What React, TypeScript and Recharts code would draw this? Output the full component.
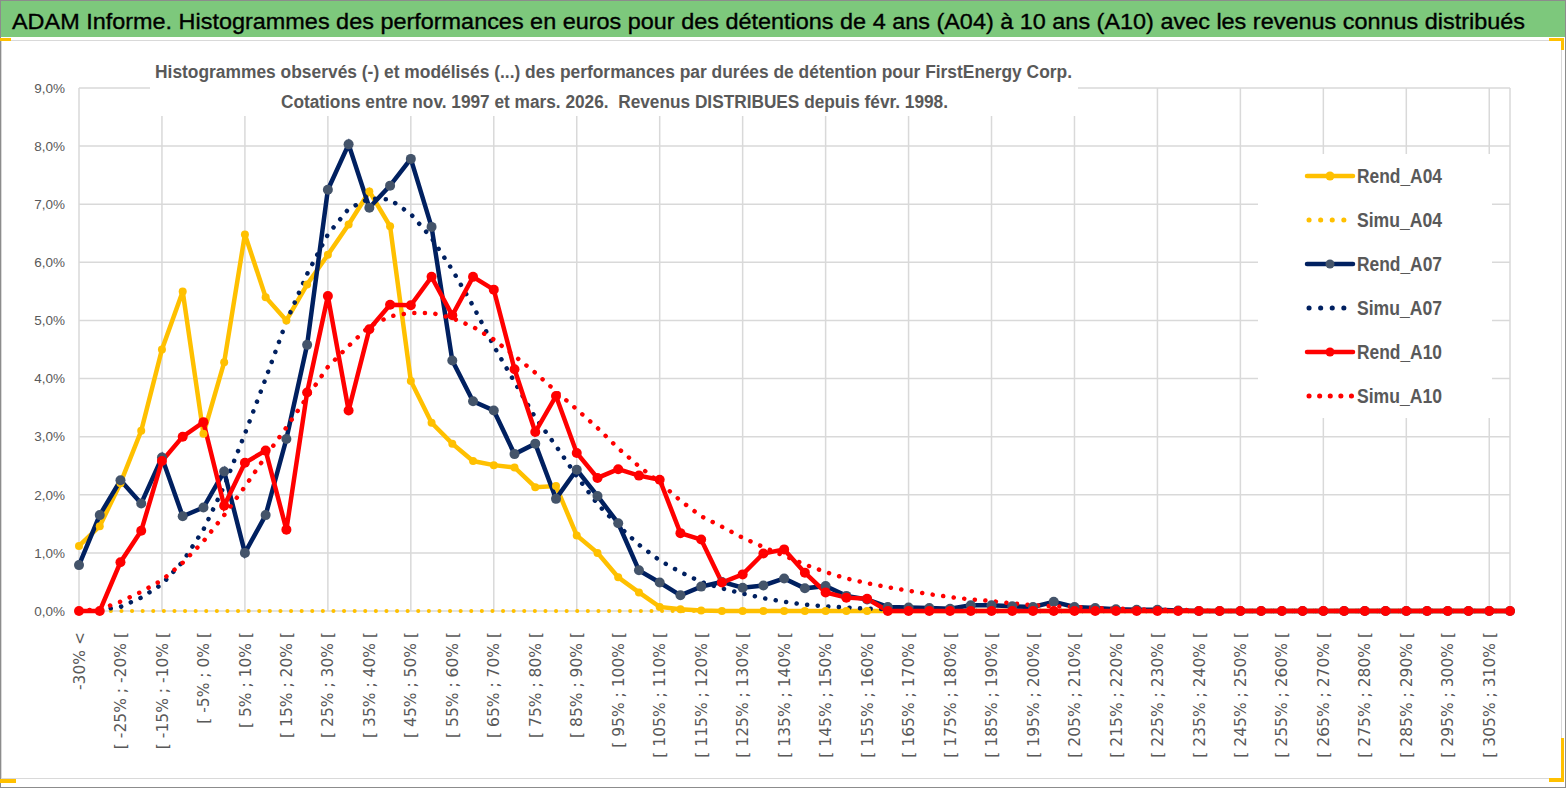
import React from 'react';
import { LineChart, Line, XAxis, YAxis, CartesianGrid, Legend } from 'recharts';

if (typeof document !== 'undefined') document.body.style.margin = '0';

// tranches de performance (pas de 5 %)
const bins = [
  '-30% <', '[ -30% ; -25% [', '[ -25% ; -20% [', '[ -20% ; -15% [', '[ -15% ; -10% [', '[ -10% ; -5% [',
  '[ -5% ; 0% [', '[ 0% ; 5% [', '[ 5% ; 10% [', '[ 10% ; 15% [', '[ 15% ; 20% [', '[ 20% ; 25% [',
  '[ 25% ; 30% [', '[ 30% ; 35% [', '[ 35% ; 40% [', '[ 40% ; 45% [', '[ 45% ; 50% [', '[ 50% ; 55% [',
  '[ 55% ; 60% [', '[ 60% ; 65% [', '[ 65% ; 70% [', '[ 70% ; 75% [', '[ 75% ; 80% [', '[ 80% ; 85% [',
  '[ 85% ; 90% [', '[ 90% ; 95% [', '[ 95% ; 100% [', '[ 100% ; 105% [', '[ 105% ; 110% [', '[ 110% ; 115% [',
  '[ 115% ; 120% [', '[ 120% ; 125% [', '[ 125% ; 130% [', '[ 130% ; 135% [', '[ 135% ; 140% [', '[ 140% ; 145% [',
  '[ 145% ; 150% [', '[ 150% ; 155% [', '[ 155% ; 160% [', '[ 160% ; 165% [', '[ 165% ; 170% [', '[ 170% ; 175% [',
  '[ 175% ; 180% [', '[ 180% ; 185% [', '[ 185% ; 190% [', '[ 190% ; 195% [', '[ 195% ; 200% [', '[ 200% ; 205% [',
  '[ 205% ; 210% [', '[ 210% ; 215% [', '[ 215% ; 220% [', '[ 220% ; 225% [', '[ 225% ; 230% [', '[ 230% ; 235% [',
  '[ 235% ; 240% [', '[ 240% ; 245% [', '[ 245% ; 250% [', '[ 250% ; 255% [', '[ 255% ; 260% [', '[ 260% ; 265% [',
  '[ 265% ; 270% [', '[ 270% ; 275% [', '[ 275% ; 280% [', '[ 280% ; 285% [', '[ 285% ; 290% [', '[ 290% ; 295% [',
  '[ 295% ; 300% [', '[ 300% ; 305% [', '[ 305% ; 310% [', '[ 310% ; 315% [',
];

// fréquences en %
const rendA04 = [
  1.12, 1.46, 2.2, 3.1, 4.5, 5.5, 3.05, 4.28, 6.48, 5.4, 5.0, 5.62, 6.13, 6.65, 7.22, 6.62, 3.96, 3.24, 2.88, 2.58,
  2.51, 2.47, 2.13, 2.15, 1.3, 1.0, 0.58, 0.32, 0.07, 0.03, 0.01, 0, 0, 0, 0, 0, 0, 0, 0, 0,
  0, 0, 0, 0, 0, 0, 0, 0, 0, 0, 0, 0, 0, 0, 0, 0, 0, 0, 0, 0,
  0, 0, 0, 0, 0, 0, 0, 0, 0, 0,
];
const simuA04 = [
  0, 0, 0, 0, 0, 0, 0, 0, 0, 0, 0, 0, 0, 0, 0, 0, 0, 0, 0, 0,
  0, 0, 0, 0, 0, 0, 0, 0, 0, 0, 0, 0, 0, 0, 0, 0, 0, 0, 0, 0,
  0, 0, 0, 0, 0, 0, 0, 0, 0, 0, 0, 0, 0, 0, 0, 0, 0, 0, 0, 0,
  0, 0, 0, 0, 0, 0, 0, 0, 0, 0,
];
const rendA07 = [
  0.79, 1.65, 2.25, 1.85, 2.64, 1.63, 1.78, 2.4, 1.0, 1.65, 2.96, 4.58, 7.25, 8.03, 6.94, 7.32, 7.78, 6.61, 4.31, 3.61,
  3.45, 2.7, 2.88, 1.93, 2.43, 1.98, 1.51, 0.7, 0.49, 0.27, 0.42, 0.5, 0.4, 0.44, 0.56, 0.39, 0.43, 0.26, 0.2, 0.07,
  0.06, 0.05, 0.04, 0.1, 0.1, 0.08, 0.07, 0.16, 0.07, 0.05, 0.03, 0.02, 0.02, 0.01, 0, 0, 0, 0, 0, 0,
  0, 0, 0, 0, 0, 0, 0, 0, 0, 0,
];
const simuA07 = [
  0, 0.02, 0.07, 0.23, 0.46, 0.85, 1.4, 2.15, 3.05, 4.0, 4.98, 5.8, 6.48, 6.92, 7.1, 7.08, 6.83, 6.42, 5.87, 5.25,
  4.56, 3.94, 3.33, 2.84, 2.32, 1.84, 1.47, 1.14, 0.87, 0.67, 0.5, 0.39, 0.3, 0.22, 0.16, 0.11, 0.08, 0.06, 0.04, 0.03,
  0.02, 0.01, 0.01, 0, 0, 0, 0, 0, 0, 0, 0, 0, 0, 0, 0, 0, 0, 0, 0, 0,
  0, 0, 0, 0, 0, 0, 0, 0, 0, 0,
];
const rendA10 = [
  0, 0, 0.84, 1.38, 2.58, 3.0, 3.25, 1.81, 2.55, 2.76, 1.4, 3.76, 5.42, 3.45, 4.85, 5.27, 5.26, 5.75, 5.09, 5.75,
  5.53, 4.16, 3.08, 3.7, 2.72, 2.29, 2.44, 2.33, 2.26, 1.34, 1.23, 0.49, 0.63, 0.99, 1.06, 0.66, 0.32, 0.23, 0.21, 0,
  0, 0, 0, 0, 0, 0, 0, 0, 0, 0, 0, 0, 0, 0, 0, 0, 0, 0, 0, 0,
  0, 0, 0, 0, 0, 0, 0, 0, 0, 0,
];
const simuA10 = [
  0, 0.03, 0.16, 0.33, 0.53, 0.83, 1.2, 1.65, 2.14, 2.66, 3.16, 3.68, 4.2, 4.56, 4.9, 5.07, 5.13, 5.13, 5.04, 4.89,
  4.67, 4.39, 4.1, 3.78, 3.47, 3.15, 2.8, 2.49, 2.21, 1.9, 1.63, 1.45, 1.26, 1.1, 0.95, 0.8, 0.67, 0.56, 0.48, 0.41,
  0.35, 0.29, 0.24, 0.2, 0.17, 0.13, 0.1, 0.08, 0.07, 0.05, 0.04, 0.03, 0.02, 0.02, 0.01, 0, 0, 0, 0, 0,
  0, 0, 0, 0, 0, 0, 0, 0, 0, 0,
];

const yTicks = [0, 1, 2, 3, 4, 5, 6, 7, 8, 9];
const seriesOrder = ['Rend_A04', 'Simu_A04', 'Rend_A07', 'Simu_A07', 'Rend_A10', 'Simu_A10'];

const data = bins.map((bin, i) => ({
  bin,
  Rend_A04: rendA04[i],
  Simu_A04: simuA04[i],
  Rend_A07: rendA07[i],
  Simu_A07: simuA07[i],
  Rend_A10: rendA10[i],
  Simu_A10: simuA10[i],
}));

const YELLOW = '#FFC000';
const NAVY = '#002060';
const RED = '#FF0000';
const GREY_TXT = '#595959';
const GRID = '#D9D9D9';
const DOTS = '0.1 10.5';

const legendStyle: Record<string, { color: string; marker?: string; dotted: boolean; gap: number }> = {
  Rend_A04: { color: YELLOW, marker: YELLOW, dotted: false, gap: 0 },
  Simu_A04: { color: YELLOW, dotted: true, gap: 11.5 },
  Rend_A07: { color: NAVY, marker: '#44546A', dotted: false, gap: 0 },
  Simu_A07: { color: NAVY, dotted: true, gap: 11.5 },
  Rend_A10: { color: RED, marker: RED, dotted: false, gap: 0 },
  Simu_A10: { color: RED, dotted: true, gap: 10.5 },
};

const renderLegend = (props: any) => {
  const items = [...(props.payload || [])].sort(
    (a: any, b: any) => seriesOrder.indexOf(a.value) - seriesOrder.indexOf(b.value),
  );
  return (
    <svg width={234} height={264} style={{ display: 'block' }}>
      {items.map((it: any, i: number) => {
        const st = legendStyle[it.value];
        const cy = 22 + i * 44;
        return (
          <g key={it.value}>
            {st.dotted ? (
              <line x1={51} y1={cy} x2={st.gap > 11 ? 86 : 95} y2={cy} stroke={st.color} strokeWidth={5}
                strokeLinecap="round" strokeDasharray={`0.1 ${st.gap}`} />
            ) : (
              <>
                <line x1={49} y1={cy} x2={95} y2={cy} stroke={st.color} strokeWidth={4.5} strokeLinecap="round" />
                <circle cx={72} cy={cy} r={4.5} fill={st.marker} />
              </>
            )}
            <text x={99} y={cy + 7} fontFamily="'Liberation Sans', sans-serif" fontWeight="bold" fontSize={20}
              fill={GREY_TXT} textLength={85} lengthAdjust="spacingAndGlyphs">{it.value}</text>
          </g>
        );
      })}
    </svg>
  );
};

const XTick = ({ x, y, payload }: any) => (
  <text transform={`translate(${x},${y}) rotate(-90)`} textAnchor="end" dy="0.36em"
    fontFamily="'DejaVu Sans', sans-serif" fontSize={15.5} fill={GREY_TXT}>
    {payload.value}
  </text>
);

const pct = (v: number) => `${v.toFixed(1).replace('.', ',')}%`;

export default function App() {
  return (
    <div style={{ position: 'relative', width: 1567, height: 789, background: '#fff', overflow: 'hidden' }}>
      {/* cadre, bandeau vert, coins */}
      <svg width={1567} height={789} style={{ position: 'absolute', left: 0, top: 0 }}>
        <rect x={0.5} y={0.5} width={1565} height={787} fill="#fff" stroke="#8C8C8C" />
        <rect x={1} y={1} width={1564} height={36} fill="#7DC87C" />
        <rect x={1.5} y={40.5} width={1560} height={738} fill="#fff" stroke={GRID} />
        <rect x={0} y={38} width={11} height={3} fill={YELLOW} />
        <rect x={1549} y={38} width={15} height={3} fill={YELLOW} />
        <rect x={1561} y={38} width={3} height={12} fill={YELLOW} />
        <rect x={0} y={779} width={16} height={4} fill={YELLOW} />
        <rect x={1549} y={778} width={15} height={4} fill={YELLOW} />
        <rect x={1561} y={738} width={3} height={44} fill={YELLOW} />
      </svg>

      <div style={{ position: 'absolute', left: 0, top: 0 }}>
        <LineChart width={1567} height={789} data={data} margin={{ top: 88, right: 57, bottom: 0, left: 0 }}>
          <CartesianGrid xAxisId="grid" stroke={GRID} strokeWidth={1.5} />
          <XAxis dataKey="bin" interval={1} tick={<XTick />} tickLine={false} axisLine={false}
            tickSize={0} tickMargin={21} height={178} />
          <XAxis xAxisId="grid" dataKey="bin" interval={3} hide />
          <YAxis domain={[0, 9]} ticks={yTicks} tickFormatter={pct} width={79} axisLine={false} tickLine={false}
            tickSize={0} tickMargin={14}
            tick={{ fill: GREY_TXT, fontSize: 13.5, fontFamily: "'Liberation Sans', sans-serif" }} />
          <Legend content={renderLegend} layout="vertical" align="center" verticalAlign="middle"
            wrapperStyle={{ left: 1258, top: 154, width: 234, height: 264, background: '#fff' }} />
          <Line dataKey="Rend_A04" stroke={YELLOW} strokeWidth={4.5} isAnimationActive={false}
            dot={{ r: 4, fill: YELLOW, stroke: 'none' }} activeDot={false} />
          <Line dataKey="Simu_A04" stroke={YELLOW} strokeWidth={4} strokeDasharray={DOTS} strokeLinecap="round"
            isAnimationActive={false} dot={false} activeDot={false} />
          <Line dataKey="Rend_A07" stroke={NAVY} strokeWidth={4.5} isAnimationActive={false}
            dot={{ r: 5, fill: '#44546A', stroke: 'none' }} activeDot={false} />
          <Line dataKey="Simu_A07" stroke={NAVY} strokeWidth={4.5} strokeDasharray={DOTS} strokeLinecap="round"
            isAnimationActive={false} dot={false} activeDot={false} />
          <Line dataKey="Rend_A10" stroke={RED} strokeWidth={4.5} isAnimationActive={false}
            dot={{ r: 5, fill: RED, stroke: 'none' }} activeDot={false} />
          <Line dataKey="Simu_A10" stroke={RED} strokeWidth={4.5} strokeDasharray={DOTS} strokeLinecap="round"
            isAnimationActive={false} dot={false} activeDot={false} />
        </LineChart>
      </div>

      {/* titres */}
      <svg width={1567} height={789} style={{ position: 'absolute', left: 0, top: 0, pointerEvents: 'none' }}>
        <text x={12} y={29} fontFamily="'Liberation Sans', sans-serif" fontSize={22} fill="#000" stroke="#000"
          strokeWidth={0.35} textLength={1513} lengthAdjust="spacingAndGlyphs">
          ADAM Informe. Histogrammes des performances en euros pour des détentions de 4 ans (A04) à 10 ans (A10) avec les revenus connus distribués
        </text>
        <rect x={150} y={56} width={928} height={60} fill="#fff" />
        <text x={155} y={78} fontFamily="'Liberation Sans', sans-serif" fontWeight="bold" fontSize={18} fill={GREY_TXT}
          textLength={917} lengthAdjust="spacingAndGlyphs">
          Histogrammes observés (-) et modélisés (...) des performances par durées de détention pour FirstEnergy Corp.
        </text>
        <text x={281} y={108} fontFamily="'Liberation Sans', sans-serif" fontWeight="bold" fontSize={18} fill={GREY_TXT}
          textLength={667} lengthAdjust="spacingAndGlyphs" style={{ whiteSpace: 'pre' }}>
          {'Cotations entre nov. 1997 et mars. 2026.  Revenus DISTRIBUES depuis févr. 1998.'}
        </text>
      </svg>
    </div>
  );
}
